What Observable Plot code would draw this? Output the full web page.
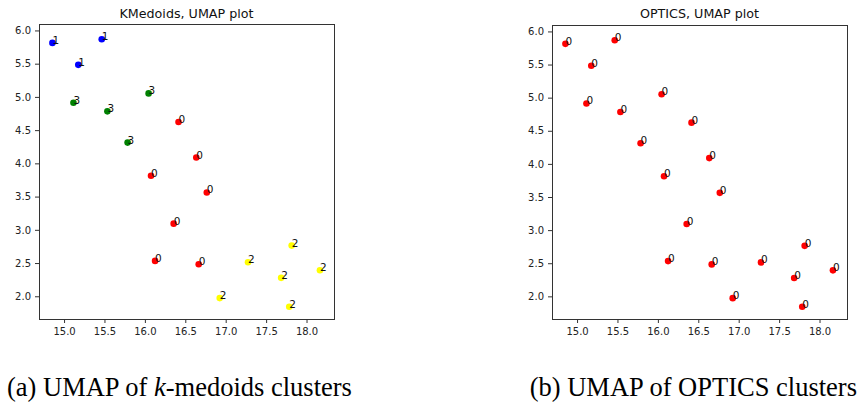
<!DOCTYPE html>
<html>
<head>
<meta charset="utf-8">
<script src="https://cdn.jsdelivr.net/npm/d3@7"></script>
<script src="https://cdn.jsdelivr.net/npm/@observablehq/plot@0.6"></script>
<style>
  html, body { margin: 0; padding: 0; background: #fff; }
  #wrap { position: relative; width: 860px; height: 402px; overflow: hidden; font-family: "DejaVu Sans", sans-serif; }
  .panel { position: absolute; top: 0; }
  .title { position: absolute; font-size: 12.7px; line-height: 1; color: #111; text-align: center; white-space: nowrap; }
  .cap { position: absolute; font-family: "Liberation Serif", "Times New Roman", serif; font-size: 26.5px; line-height: 1; color: #000; white-space: nowrap; }
</style>
</head>
<body>
<div id="wrap"></div>
<script>
// UMAP coordinates
const umapX = [14.85, 15.46, 15.17, 15.11, 15.53, 16.04, 15.78, 16.41, 16.63, 16.07,
               16.76, 16.35, 16.12, 16.66, 16.92, 17.27, 17.68, 17.81, 17.78, 18.16];
const umapY = [5.82, 5.875, 5.49, 4.92, 4.79, 5.06, 4.32, 4.63, 4.095, 3.82,
               3.57, 3.10, 2.54, 2.49, 1.98, 2.52, 2.285, 2.77, 1.85, 2.40];
const kmedoidsLabels = [1, 1, 1, 3, 3, 3, 3, 0, 0, 0, 0, 0, 0, 0, 2, 2, 2, 2, 2, 2];
const opticsLabels   = [0, 0, 0, 0, 0, 0, 0, 0, 0, 0, 0, 0, 0, 0, 0, 0, 0, 0, 0, 0];
const clusterIds = [0, 1, 2, 3];
const clusterColors = ["red", "blue", "yellow", "green"];
const xTicks = [15.0, 15.5, 16.0, 16.5, 17.0, 17.5, 18.0];
const yTicks = [2.0, 2.5, 3.0, 3.5, 4.0, 4.5, 5.0, 5.5, 6.0];
const titles = ["KMedoids, UMAP plot", "OPTICS, UMAP plot"];
const captions = ["(a) UMAP of <i>k</i>-medoids clusters", "(b) UMAP of OPTICS clusters"];

const wrap = document.getElementById("wrap");

function panel(labels, left, width, mL, mR, mT, title, caption, capPos) {
  const data = umapX.map((x, i) => ({x, y: umapY[i], c: labels[i]}));
  const H = 340, mB = H - 319;
  const chart = Plot.plot({
    width, height: H,
    marginLeft: mL, marginRight: mR, marginTop: mT, marginBottom: mB,
    style: {fontFamily: "DejaVu Sans, sans-serif", fontSize: "10px", color: "#222", background: "transparent"},
    x: {domain: [14.69, 18.34], label: null},
    y: {domain: [1.658, 6.097], label: null},
    color: {domain: clusterIds, range: clusterColors},
    marks: [
      Plot.frame({stroke: "#333", strokeWidth: 1}),
      Plot.axisX({ticks: xTicks, tickFormat: d => d.toFixed(1), tickSize: 4, tickPadding: 4.5, stroke: "#333", fill: "#222", fontSize: 10}),
      Plot.axisY({ticks: yTicks, tickFormat: d => d.toFixed(1), tickSize: 4, tickPadding: 4.5, stroke: "#333", fill: "#222", fontSize: 10}),
      Plot.dot(data, {x: "x", y: "y", fill: "c", r: 3.3, stroke: null}),
      Plot.text(data, {x: "x", y: "y", text: d => String(d.c), textAnchor: "start", lineAnchor: "bottom", fill: "#111", fontSize: 10.5, dy: 1})
    ]
  });
  const p = document.createElement("div");
  p.className = "panel";
  p.style.left = left + "px";
  p.appendChild(chart);
  wrap.appendChild(p);

  const t = document.createElement("div");
  t.className = "title";
  t.textContent = title;
  const fl = left + mL, fr = left + width - mR;
  t.style.left = fl + "px";
  t.style.width = (fr - fl) + "px";
  t.style.top = "8.3px";
  wrap.appendChild(t);

  const c = document.createElement("div");
  c.className = "cap";
  c.innerHTML = caption;
  if (capPos.left != null) c.style.left = capPos.left + "px";
  if (capPos.right != null) c.style.right = capPos.right + "px";
  c.style.top = "373.8px";
  wrap.appendChild(c);
}

panel(kmedoidsLabels, 0, 345, 39, 11, 24, titles[0], captions[0], {left: 7});
panel(opticsLabels, 512, 346, 40, 11, 25, titles[1], captions[1], {right: 3});
</script>
</body>
</html>
